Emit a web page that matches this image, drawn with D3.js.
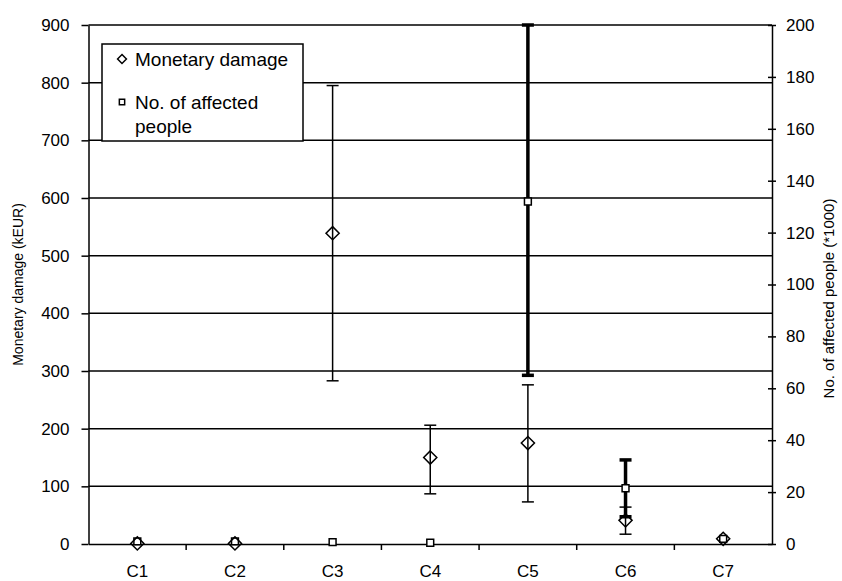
<!DOCTYPE html>
<html lang="en">
<head>
    <meta charset="UTF-8">
    <style>
        body { margin: 0; background: #fff; }
        svg { display: block; font-family: "Liberation Sans", Arial, sans-serif; }
        .grid line { stroke: #000; stroke-width: 1.5px; }
        .axis path, .axis line { stroke: #000; stroke-width: 1.5px; }
        .axis text { font-size: 17px; fill: #000; }
        .title { font-size: 14px; fill: #000; }
        .legend text { font-size: 19px; fill: #000; }
    </style>
</head>
<body>
    <svg width="842" height="581"></svg>
    <script src="https://d3js.org/d3.v7.min.js"></script>
    <script>

        // values
        var categories = ["C1", "C2", "C3", "C4", "C5", "C6", "C7"];
        var damage     = [1, 1, 539, 150, 175, 41, 9];
        var damageLow  = [null, null, 283, 87, 73, 17, null];
        var damageHigh = [null, null, 795, 206, 276, 64, null];
        var people     = [1, 1, 0.7, 0.5, 132, 21.5, 2];
        var peopleLow  = [null, null, null, null, 65, 10.5, null];
        var peopleHigh = [null, null, null, null, 200, 32.4, null];
        var leftTicks  = [0, 100, 200, 300, 400, 500, 600, 700, 800, 900];
        var rightTicks = [0, 20, 40, 60, 80, 100, 120, 140, 160, 180, 200];

        var svg = d3.select("svg"),
            margin = {top: 25, right: 70, bottom: 37, left: 88.5},
            width = +svg.attr("width") - margin.left - margin.right,
            height = +svg.attr("height") - margin.top - margin.bottom,
            g = svg.append("g").attr("transform", "translate(" + margin.left + "," + margin.top + ")");

        var x = d3.scaleBand().domain(categories).range([0, width]),
            yL = d3.scaleLinear().domain([0, 900]).range([height, 0]),
            yR = d3.scaleLinear().domain([0, 200]).range([height, 0]);

        // horizontal grid
        g.append("g").attr("class", "grid")
            .selectAll("line")
            .data(leftTicks.slice(1))
            .enter().append("line")
            .attr("x1", 0).attr("x2", width)
            .attr("y1", function(d) { return yL(d); })
            .attr("y2", function(d) { return yL(d); });

        // left axis
        g.append("g").attr("class", "axis")
            .call(d3.axisLeft(yL).tickValues(leftTicks).tickSize(7).tickSizeOuter(0).tickPadding(12));

        // right axis, ticks cross the line
        var ra = g.append("g").attr("class", "axis")
            .attr("transform", "translate(" + width + ",0)")
            .call(d3.axisRight(yR).tickValues(rightTicks).tickSize(4).tickSizeOuter(0).tickPadding(10));
        ra.selectAll(".tick line").attr("x1", -4);

        // bottom axis: labels centred, ticks on band edges
        var xa = g.append("g").attr("class", "axis")
            .attr("transform", "translate(0," + height + ")")
            .call(d3.axisBottom(x).tickSize(0).tickPadding(21));
        xa.selectAll(".edge")
            .data(categories.slice(1))
            .enter().append("line")
            .attr("class", "edge")
            .attr("x1", function(d) { return x(d); })
            .attr("x2", function(d) { return x(d); })
            .attr("y1", 0).attr("y2", 6);

        var cx = function(i) { return x(categories[i]) + x.bandwidth() / 2; };

        function errorBars(low, high, scale, w, cap) {
            var idx = d3.range(categories.length).filter(function(i) { return low[i] != null; });
            var eb = g.append("g").attr("stroke", "#000").attr("stroke-width", w);
            eb.selectAll(".stem").data(idx).enter().append("line")
                .attr("x1", cx).attr("x2", cx)
                .attr("y1", function(i) { return scale(low[i]); })
                .attr("y2", function(i) { return scale(high[i]); });
            [low, high].forEach(function(arr) {
                eb.selectAll(null).data(idx).enter().append("line")
                    .attr("x1", function(i) { return cx(i) - cap; })
                    .attr("x2", function(i) { return cx(i) + cap; })
                    .attr("y1", function(i) { return scale(arr[i]); })
                    .attr("y2", function(i) { return scale(arr[i]); });
            });
        }

        errorBars(peopleLow, peopleHigh, yR, 3.5, 6);
        errorBars(damageLow, damageHigh, yL, 1.5, 6);

        var diamond = d3.symbol().type(d3.symbolDiamond2).size(110);
        var square = d3.symbol().type(d3.symbolSquare2).size(60);

        g.selectAll(".sq").data(people).enter().append("path")
            .attr("class", "sq")
            .attr("d", square)
            .attr("transform", function(d, i) { return "translate(" + cx(i) + "," + yR(d) + ")"; })
            .attr("fill", "#fff").attr("stroke", "#000").attr("stroke-width", 1.5);

        g.selectAll(".dm").data(damage).enter().append("path")
            .attr("class", "dm")
            .attr("d", diamond)
            .attr("transform", function(d, i) { return "translate(" + cx(i) + "," + yL(d) + ")"; })
            .attr("fill", "none").attr("stroke", "#000").attr("stroke-width", 1.5);

        // axis titles
        svg.append("text").attr("class", "title")
            .attr("transform", "translate(23," + (margin.top + height / 2) + ") rotate(-90)")
            .attr("text-anchor", "middle")
            .text("Monetary damage (kEUR)");

        svg.append("text").attr("class", "title")
            .attr("transform", "translate(834," + (margin.top + height / 2 + 14) + ") rotate(-90)")
            .attr("text-anchor", "middle")
            .style("font-size", "15px")
            .text("No. of affected people (*1000)");

        // legend
        var lg = svg.append("g").attr("class", "legend").attr("transform", "translate(102,44)");
        lg.append("rect").attr("width", 201).attr("height", 97)
            .attr("fill", "#fff").attr("stroke", "#000").attr("stroke-width", 1.5);
        lg.append("path").attr("d", d3.symbol().type(d3.symbolDiamond2).size(50))
            .attr("transform", "translate(20,15)")
            .attr("fill", "none").attr("stroke", "#000").attr("stroke-width", 1.5);
        lg.append("text").attr("x", 33).attr("y", 15).attr("dy", "0.35em").text("Monetary damage");
        lg.append("path").attr("d", d3.symbol().type(d3.symbolSquare2).size(36))
            .attr("transform", "translate(20,58)")
            .attr("fill", "#fff").attr("stroke", "#000").attr("stroke-width", 1.5);
        lg.append("text").attr("x", 33).attr("y", 58).attr("dy", "0.35em").text("No. of affected");
        lg.append("text").attr("x", 33).attr("y", 82).attr("dy", "0.35em").text("people");

    </script>
</body>
</html>
